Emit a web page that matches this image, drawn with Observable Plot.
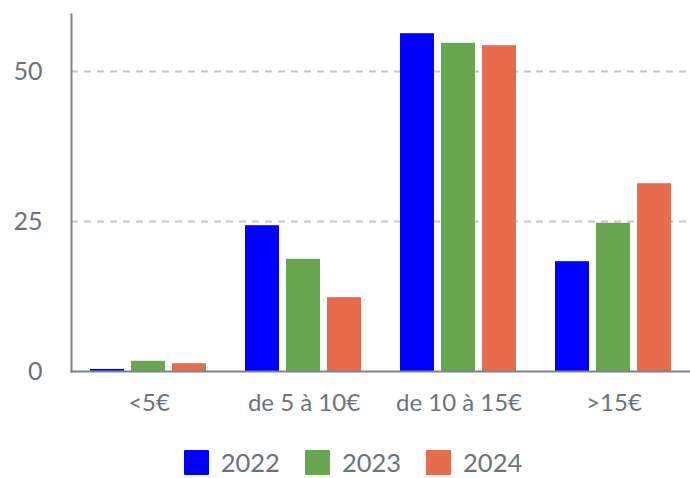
<!DOCTYPE html>
<html>
<head>
<meta charset="utf-8">
<script src="https://cdn.jsdelivr.net/npm/d3@7"></script>
<script src="https://cdn.jsdelivr.net/npm/@observablehq/plot@0.6"></script>
<style>
  html, body { margin: 0; padding: 0; background: #fff; }
  body { width: 690px; height: 478px; overflow: hidden; font-family: Lato, sans-serif; position: relative; }
  #chart svg { display: block; }
  #legend { position: absolute; left: 0; top: 449px; width: 690px; padding-left: 16px; box-sizing: border-box; display: flex; justify-content: center; align-items: center; font-family: Lato, sans-serif; font-size: 25.5px; color: #6b737c; line-height: 26px; }
  .item { display: flex; align-items: center; margin: 0 12.5px; }
  .sw { width: 25px; height: 25px; margin-right: 12px; border-radius: 1px; }
</style>
</head>
<body>
<div id="chart"></div>
<div id="legend"></div>
<script>
const categories = ["<5€", "de 5 à 10€", "de 10 à 15€", ">15€"];
const years = ["2022", "2023", "2024"];
const colors = ["#0000ff", "#68a74f", "#e76b4d"];
const values2022 = [0.35, 24.3, 56.3, 18.3];
const values2023 = [1.7, 18.7, 54.7, 24.7];
const values2024 = [1.3, 12.3, 54.3, 31.3];
const yTicks = [0, 25, 50];
const gridTicks = [25, 50];

const series = {"2022": values2022, "2023": values2023, "2024": values2024};
const data = [];
categories.forEach((c, i) => years.forEach(y => data.push({cat: c, year: y, value: series[y][i]})));

const textColor = "#6b737c";
const axisColor = "#7c838b";

const chart = Plot.plot({
  width: 690,
  height: 440,
  marginLeft: 70,
  marginRight: -2,
  marginTop: 14,
  marginBottom: 69,
  style: {fontFamily: "Lato, sans-serif", color: textColor, background: "#fff", overflow: "hidden"},
  fx: {domain: categories, padding: 0, label: null, axis: null},
  x: {domain: years, paddingInner: 0.17, paddingOuter: 0.47, axis: null},
  y: {domain: [0, 59.5], label: null},
  color: {domain: years, range: colors},
  marks: [
    Plot.ruleY(gridTicks, {facet: null, stroke: "#c4c7cb", strokeWidth: 2, strokeDasharray: "7,6"}),
    Plot.barY(data, {fx: "cat", x: "year", y: "value", fill: "year"}),
    Plot.frame({anchor: "bottom", facet: "super", stroke: axisColor, strokeWidth: 2}),
    Plot.frame({anchor: "left", facet: "super", stroke: axisColor, strokeWidth: 2}),
    Plot.axisY(yTicks, {tickSize: 0, tickPadding: 29, fontSize: 25, fill: textColor, label: null}),
    Plot.axisFx({anchor: "bottom", tickSize: 0, tickPadding: 22, fontSize: 24, fill: textColor, label: null})
  ]
});
document.getElementById("chart").appendChild(chart);

const legend = document.getElementById("legend");
years.forEach((y, i) => {
  const it = document.createElement("div");
  it.className = "item";
  const sw = document.createElement("div");
  sw.className = "sw";
  sw.style.background = colors[i];
  const t = document.createElement("span");
  t.textContent = y;
  it.appendChild(sw);
  it.appendChild(t);
  legend.appendChild(it);
});
</script>
</body>
</html>
